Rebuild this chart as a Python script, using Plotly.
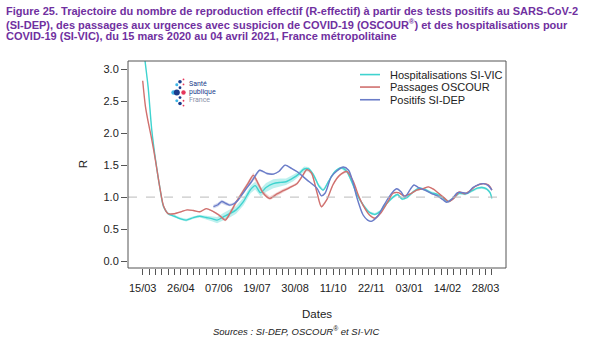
import pandas as pd
import plotly.graph_objects as go

# ---------------- data (day offset from 2020-03-15, R-effectif) ----------------
START = "2020-03-15"

hosp_day = [0, 3, 6, 10, 14, 19, 23, 28, 35, 42, 48, 56, 63, 70, 77, 82, 89, 96, 103, 111,
            119, 124, 130, 136, 144, 152, 158, 166, 172, 178, 183, 189, 194, 199, 205, 212,
            219, 225, 231, 237, 243, 250, 256, 262, 269, 276, 281, 286, 292, 298, 305, 311,
            318, 325, 331, 337, 343, 349, 356, 363, 369, 374, 379, 383, 385]
hosp_r = [3.45, 3.08, 2.72, 2.05, 1.60, 1.14, 0.85, 0.74, 0.70, 0.66, 0.64, 0.68, 0.70, 0.68,
          0.66, 0.64, 0.69, 0.74, 0.80, 0.93, 1.12, 1.18, 1.07, 1.15, 1.21, 1.23, 1.24, 1.30,
          1.36, 1.44, 1.44, 1.33, 1.18, 1.11, 1.25, 1.40, 1.46, 1.40, 1.22, 1.02, 0.88, 0.76,
          0.73, 0.78, 0.90, 1.00, 1.04, 0.97, 1.00, 1.08, 1.14, 1.12, 1.07, 1.04, 0.99, 0.93,
          0.99, 1.06, 1.05, 1.10, 1.14, 1.15, 1.13, 1.07, 0.98]
hosp_ci = [0.02, 0.02, 0.02, 0.02, 0.02, 0.02, 0.02, 0.02, 0.02, 0.02, 0.02, 0.02, 0.02, 0.03,
           0.04, 0.05, 0.06, 0.06, 0.06, 0.06, 0.06, 0.06, 0.06, 0.07, 0.07, 0.06, 0.05, 0.05,
           0.04, 0.04, 0.03, 0.03, 0.03, 0.02, 0.02, 0.02, 0.02, 0.02, 0.02, 0.02, 0.02, 0.02,
           0.02, 0.02, 0.02, 0.02, 0.02, 0.02, 0.02, 0.02, 0.02, 0.02, 0.02, 0.02, 0.02, 0.02,
           0.02, 0.02, 0.02, 0.02, 0.02, 0.02, 0.02, 0.02, 0.02]

osc_day = [0, 3, 6, 10, 14, 19, 23, 28, 35, 42, 49, 56, 63, 70, 77, 84, 91, 96, 103, 111,
           116, 122, 127, 133, 140, 148, 155, 162, 170, 176, 181, 186, 192, 197, 203, 210,
           217, 225, 232, 238, 243, 250, 256, 263, 270, 276, 282, 288, 295, 302, 309, 315,
           321, 327, 333, 337, 343, 349, 355, 361, 367, 374, 381, 385]
osc_r = [2.82, 2.42, 2.18, 1.90, 1.58, 1.14, 0.86, 0.74, 0.74, 0.77, 0.80, 0.79, 0.77, 0.82,
         0.78, 0.72, 0.64, 0.74, 0.92, 1.10, 1.21, 1.34, 1.22, 1.06, 0.98, 1.05, 1.10, 1.15,
         1.21, 1.33, 1.43, 1.38, 1.08, 0.85, 0.96, 1.20, 1.34, 1.40, 1.25, 1.02, 0.87, 0.72,
         0.67, 0.76, 0.92, 1.06, 1.07, 1.02, 1.05, 1.11, 1.13, 1.16, 1.12, 1.05, 0.98, 0.93,
         0.98, 1.08, 1.05, 1.10, 1.17, 1.21, 1.19, 1.11]
osc_ci = [0.01, 0.01, 0.01, 0.01, 0.01, 0.01, 0.01, 0.01, 0.01, 0.01, 0.01, 0.01, 0.01, 0.01,
          0.01, 0.02, 0.02, 0.03, 0.03, 0.03, 0.04, 0.04, 0.04, 0.03, 0.03, 0.03, 0.03, 0.02,
          0.02, 0.02, 0.02, 0.02, 0.02, 0.02, 0.01, 0.01, 0.01, 0.01, 0.01, 0.01, 0.01, 0.01,
          0.01, 0.01, 0.01, 0.01, 0.01, 0.01, 0.01, 0.01, 0.01, 0.01, 0.01, 0.01, 0.01, 0.01,
          0.01, 0.01, 0.01, 0.01, 0.01, 0.01, 0.01, 0.01]

dep_day = [78, 83, 87, 92, 96, 101, 105, 113, 120, 129, 137, 144, 150, 157, 164, 170, 181,
           192, 197, 201, 208, 215, 221, 227, 232, 236, 243, 248, 252, 259, 265, 270, 275,
           280, 285, 289, 295, 299, 304, 311, 318, 325, 331, 335, 341, 347, 353, 358, 364,
           371, 376, 381, 385]
dep_r = [0.85, 0.88, 0.93, 0.90, 0.875, 0.90, 0.95, 1.11, 1.24, 1.42, 1.37, 1.36, 1.40, 1.50,
         1.45, 1.40, 1.27, 1.14, 1.02, 1.06, 1.32, 1.42, 1.47, 1.42, 1.22, 1.00, 0.72, 0.64,
         0.62, 0.70, 0.85, 0.97, 1.07, 1.13, 1.08, 1.00, 1.12, 1.19, 1.15, 1.11, 1.06, 1.02,
         0.96, 0.92, 0.97, 1.07, 1.07, 1.06, 1.15, 1.20, 1.21, 1.18, 1.11]
dep_ci = [0.03, 0.03, 0.03, 0.03, 0.02, 0.02, 0.02, 0.02, 0.02, 0.015, 0.015, 0.015, 0.01,
          0.01, 0.01, 0.01, 0.01, 0.01, 0.01, 0.01, 0.01, 0.01, 0.01, 0.01, 0.01, 0.01, 0.01,
          0.01, 0.01, 0.01, 0.01, 0.01, 0.01, 0.01, 0.01, 0.01, 0.01, 0.01, 0.01, 0.01, 0.01,
          0.01, 0.01, 0.01, 0.01, 0.01, 0.01, 0.01, 0.01, 0.01, 0.01, 0.01, 0.01]

series_names = ["Hospitalisations SI-VIC", "Passages OSCOUR", "Positifs SI-DEP"]
series_colors = ["#3FD3CF", "#D0706E", "#6A7CC8"]
band_colors = ["rgba(63,211,207,0.35)", "rgba(208,112,110,0.30)", "rgba(106,124,200,0.30)"]

week_ticks = pd.date_range("2020-03-15", "2021-04-04", freq="7D")
label_ticks = pd.date_range("2020-03-15", "2021-03-28", freq="42D")
tick_labels = ["15/03", "26/04", "07/06", "19/07", "30/08", "11/10", "22/11", "03/01",
               "14/02", "28/03"]

title_lines = [
    "Figure 25. Trajectoire du nombre de reproduction effectif (R-effectif) à partir des tests positifs au SARS-CoV-2",
    "(SI-DEP), des passages aux urgences avec suspicion de COVID-19 (OSCOUR<sup>®</sup>) et des hospitalisations pour",
    "COVID-19 (SI-VIC), du 15 mars 2020 au 04 avril 2021, France métropolitaine",
]

# ---------------- layout geometry ----------------
W, H = 600, 343
L, R_, T, B = 128, 506, 60.7, 268


def px(x):
    return (x - L) / (R_ - L)


def py(y):
    return (B - y) / (B - T)


FONT = "Liberation Sans, Arial, sans-serif"

fig = go.Figure()
start = pd.Timestamp(START)
all_series = [(hosp_day, hosp_r, hosp_ci), (osc_day, osc_r, osc_ci), (dep_day, dep_r, dep_ci)]
for (days, vals, ci), name, col, bcol in zip(all_series, series_names, series_colors, band_colors):
    dates = start + pd.to_timedelta(days, unit="D")
    up = [v + c for v, c in zip(vals, ci)]
    lo = [v - c for v, c in zip(vals, ci)]
    fig.add_trace(go.Scatter(x=list(dates) + list(dates[::-1]), y=up + lo[::-1], fill="toself",
                             fillcolor=bcol, line=dict(width=0), mode="lines",
                             hoverinfo="skip", showlegend=False))
for (days, vals, ci), name, col in zip(all_series, series_names, series_colors):
    dates = start + pd.to_timedelta(days, unit="D")
    fig.add_trace(go.Scatter(x=dates, y=vals, mode="lines", name=name,
                             line=dict(color=col, width=1.4, shape="spline", smoothing=0.8),
                             showlegend=False))

x0 = start + pd.Timedelta(days=(L - 142.7) / 0.907)
x1 = start + pd.Timedelta(days=(R_ - 142.7) / 0.907)

# invisible trace to anchor the weekly tick axis
fig.add_trace(go.Scatter(x=[x0, x1], y=[None, None], xaxis="x2", mode="lines",
                         hoverinfo="skip", showlegend=False))

fig.update_layout(
    width=W, height=H, margin=dict(l=L, r=W - R_, t=T, b=H - B),
    paper_bgcolor="white", plot_bgcolor="white",
    font=dict(family=FONT, size=11, color="#222"),
    xaxis=dict(range=[x0, x1], tickvals=list(label_ticks), ticktext=tick_labels, ticks="outside",
               ticklen=6, tickcolor="#555", showgrid=False, zeroline=False, showline=False,
               ticklabelstandoff=4, tickfont=dict(size=11, color="#222")),
    xaxis2=dict(range=[x0, x1], overlaying="x", side="bottom", anchor="y",
                tickvals=list(week_ticks), showticklabels=False, ticks="outside", ticklen=6,
                tickcolor="#555", showgrid=False, zeroline=False, showline=False),
    yaxis=dict(range=[(261 - B) / 64, (261 - T) / 64], tickvals=[0, 0.5, 1, 1.5, 2, 2.5, 3],
               tickformat=".1f", ticks="outside", ticklen=6, tickcolor="#555", showgrid=False,
               zeroline=False, showline=False, tickfont=dict(size=11, color="#222")),
    showlegend=False,
)

shapes = [
    dict(type="line", xref="paper", yref="y", x0=0, x1=1, y0=1, y1=1,
         line=dict(color="#BBBBBB", width=1, dash="dash")),
    dict(type="rect", xref="paper", yref="paper", x0=0, x1=1, y0=0, y1=1,
         line=dict(color="#555", width=1)),
]
annotations = []

# legend (manual)
leg_y = [74.3, 86.8, 99.5]
for name, col, yy in zip(series_names, series_colors, leg_y):
    shapes.append(dict(type="line", xref="paper", yref="paper", x0=px(360), x1=px(380),
                       y0=py(yy), y1=py(yy), line=dict(color=col, width=1.6)))
    annotations.append(dict(xref="paper", yref="paper", x=px(388), y=py(yy), text=name,
                            showarrow=False, xanchor="left", yanchor="middle",
                            font=dict(size=11, color="#222")))

# logo (Santé publique France)
dots = [(173.5, 92.3, 2.2, "#3DB5E6"), (176.8, 84.5, 1.5, "#3DB5E6"), (176.8, 92.3, 3.0, "#1A3C8C"),
        (176.8, 100.5, 1.5, "#3DB5E6"), (180, 81.5, 1.8, "#1A3C8C"), (180, 87.5, 1.4, "#1A3C8C"),
        (180, 97.3, 1.4, "#1A3C8C"), (180, 103.2, 1.8, "#1A3C8C"), (183.5, 79.2, 0.9, "#E5375B"),
        (183.5, 84.2, 0.9, "#E5375B"), (183.5, 92.3, 2.2, "#E5375B"), (183.5, 100.5, 0.9, "#E5375B"),
        (183.5, 105.3, 0.9, "#E5375B")]
for cx, cy, r, c in dots:
    shapes.append(dict(type="circle", xref="paper", yref="paper", x0=px(cx - r), x1=px(cx + r),
                       y0=py(cy + r), y1=py(cy - r), fillcolor=c, line=dict(width=0)))
for txt, yy, c in [("Santé", 84, "#1A3C8C"), ("publique", 92, "#1A3C8C"), ("France", 100, "#8A8FA8")]:
    annotations.append(dict(xref="paper", yref="paper", x=px(186.5), y=py(yy), text=txt,
                            showarrow=False, xanchor="left", yanchor="middle",
                            font=dict(size=7, color=c, family="Roboto, sans-serif")))

# title
for line, yy in zip(title_lines, [11, 23.5, 36]):
    annotations.append(dict(xref="paper", yref="paper", x=px(4), y=py(yy), text="<b>" + line + "</b>",
                            showarrow=False, xanchor="left", yanchor="middle",
                            font=dict(size=11, color="#7030A0")))

# axis titles and source
annotations.append(dict(xref="paper", yref="paper", x=px(83), y=py(164), text="R", showarrow=False,
                        xanchor="center", yanchor="middle", textangle=-90, font=dict(size=11.5)))
annotations.append(dict(xref="paper", yref="paper", x=px(317), y=py(314), text="Dates",
                        showarrow=False, xanchor="center", yanchor="middle", font=dict(size=11.5)))
annotations.append(dict(xref="paper", yref="paper", x=px(296), y=py(331),
                        text="<i>Sources : SI-DEP, OSCOUR<sup>®</sup> et SI-VIC</i>",
                        showarrow=False, xanchor="center", yanchor="middle", font=dict(size=9.5)))

fig.update_layout(shapes=shapes, annotations=annotations)
fig.write_html("out.html")
